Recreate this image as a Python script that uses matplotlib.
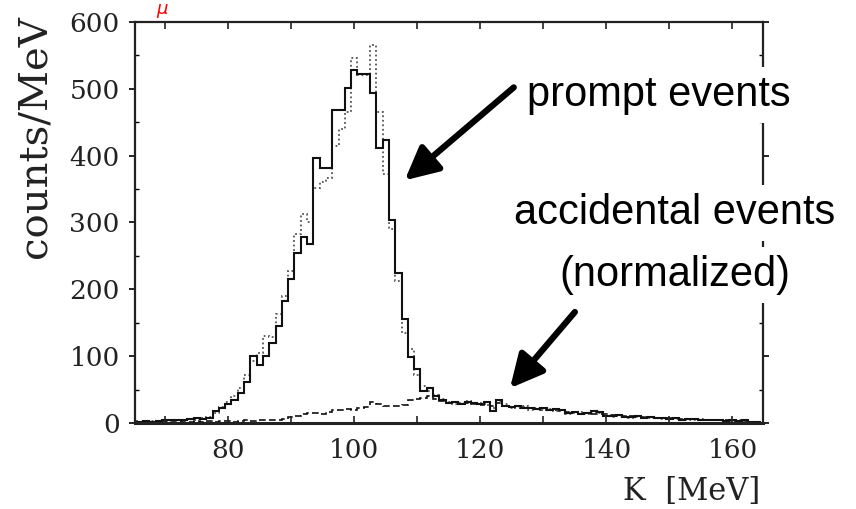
import matplotlib
matplotlib.use('Agg')
import matplotlib.pyplot as plt
import numpy as np

# Bin centres in MeV (1 MeV bins)
kCentres = list(range(65, 165))

# Prompt events, solid histogram
promptSolid = [2, 2, 3, 2, 3, 4, 4, 5, 5, 6,
               7, 6, 8, 18, 22, 28, 34, 45, 62, 100,
               86, 100, 120, 145, 183, 216, 255, 278, 268, 396,
               382, 382, 468, 468, 501, 528, 522, 522, 493, 411,
               423, 303, 225, 156, 98, 81, 48, 52, 40, 34,
               30, 31, 29, 32, 30, 28, 31, 18, 35, 26,
               24, 25, 23, 22, 21, 22, 20, 21, 19, 15,
               16, 14, 15, 18, 17, 11, 10, 12, 9, 9,
               10, 8, 9, 8, 7, 6, 7, 5, 6, 6,
               5, 4, 5, 4, 3, 4, 3, 4, 2, 2]

# Prompt events, second (dotted) histogram
promptDotted = [3, 2, 2, 3, 2, 4, 3, 4, 5, 6,
                5, 7, 9, 15, 24, 32, 40, 52, 72, 92,
                105, 130, 128, 163, 190, 228, 283, 313, 300, 352,
                360, 367, 415, 440, 465, 546, 520, 520, 566, 465,
                373, 290, 212, 135, 110, 72, 55, 48, 42, 36,
                32, 28, 30, 33, 29, 30, 27, 22, 33, 28,
                22, 24, 25, 20, 22, 19, 21, 18, 20, 14,
                15, 16, 13, 17, 15, 12, 9, 11, 10, 8,
                9, 9, 7, 8, 6, 7, 6, 6, 5, 5,
                6, 4, 4, 5, 3, 3, 4, 3, 2, 2]

# Accidental events (normalized), dashed histogram
accidental = [2, 1, 2, 2, 1, 2, 2, 3, 2, 2,
              3, 2, 3, 2, 3, 3, 2, 3, 4, 3,
              4, 4, 5, 5, 6, 9, 10, 13, 15, 15,
              14, 17, 19, 20, 21, 20, 22, 24, 31, 28,
              26, 26, 25, 27, 35, 36, 38, 40, 36, 33,
              30, 32, 29, 30, 28, 27, 29, 25, 30, 26,
              24, 23, 24, 22, 21, 20, 19, 20, 18, 17,
              16, 15, 15, 14, 14, 13, 12, 12, 11, 10,
              10, 9, 9, 8, 8, 7, 7, 6, 6, 6,
              5, 5, 4, 4, 4, 3, 3, 3, 2, 2]

xMajorTicks = [80, 100, 120, 140, 160]
yMajorTicks = [0, 100, 200, 300, 400, 500, 600]

serif = ['DejaVu Serif']
sans = ['Liberation Sans', 'DejaVu Sans']


def main():
    fig = plt.figure(figsize=(8.56, 5.09), dpi=100)
    ax = fig.add_axes([0.1577, 0.169, 0.7333, 0.788])

    centres = np.array(kCentres, dtype=float)
    edges = np.append(centres - 0.5, centres[-1] + 0.5)

    ax.stairs(accidental, edges, color='#111111', lw=1.2, linestyle=(0, (4, 2)), baseline=None)
    ax.stairs(promptDotted, edges, color='#555555', lw=1.3, linestyle=(0, (1, 1.5)), baseline=None)
    ax.stairs(promptSolid, edges, color='#111111', lw=1.5, baseline=None)

    ax.set_xlim(65.2, 164.8)
    ax.set_ylim(0, 600)

    ax.set_xticks(xMajorTicks)
    ax.set_xticks(np.arange(70, 165, 10), minor=True)
    ax.set_yticks(yMajorTicks)
    ax.set_yticks(np.arange(50, 600, 50), minor=True)
    ax.set_xticklabels([str(v) for v in xMajorTicks], family=serif, fontsize=19)
    ax.set_yticklabels([str(v) for v in yMajorTicks], family=serif, fontsize=19)
    ax.tick_params(axis='x', which='both', direction='in', length=5, width=1.2,
                   top=True, pad=11, colors='#222222', labelcolor='#222222')
    ax.tick_params(axis='y', which='major', direction='out', length=4, width=1.2,
                   right=True, pad=7, labelcolor='#222222')
    ax.tick_params(axis='y', which='minor', direction='in', length=3, width=1.0, right=True)

    for side, lw in (('bottom', 2.2), ('left', 1.6), ('top', 1.6), ('right', 1.6)):
        ax.spines[side].set_linewidth(lw)
        ax.spines[side].set_color('#222222')

    # Axis labels placed as in the scanned figure
    fig.text(35 / 856, 1 - 137 / 509, 'counts/MeV', rotation=90, ha='center', va='center',
             family=serif, fontsize=29, color='#222222')
    fig.text(760 / 856, 1 - 491 / 509, 'K  [MeV]', ha='right', va='center',
             family=serif, fontsize=22, color='#222222')
    fig.text(162 / 856, 1.0, '\u03bc', ha='center', va='top', color='red',
             style='italic', fontsize=13)

    # Annotations with arrows
    box = dict(facecolor='white', edgecolor='none', pad=6)
    fig.text(659 / 856, 1 - 95 / 509, 'prompt events', ha='center', va='center',
             family=sans, fontsize=30, bbox=box, zorder=5)
    fig.text(675 / 856, 1 - 213 / 509, 'accidental events', ha='center', va='center',
             family=sans, fontsize=30, bbox=box, zorder=5)
    fig.text(675 / 856, 1 - 275 / 509, '(normalized)', ha='center', va='center',
             family=sans, fontsize=30, bbox=box, zorder=5)

    arrow = dict(arrowstyle='-|>,head_length=1.0,head_width=0.5', lw=4.5,
                 color='black', shrinkA=0, shrinkB=0, mutation_scale=20)
    ax.annotate('', xy=(108.0, 363), xytext=(125.3, 502), arrowprops=arrow,
                annotation_clip=False)
    ax.annotate('', xy=(124.7, 52), xytext=(135.0, 166), arrowprops=arrow,
                annotation_clip=False)

    fig.savefig('out.png', dpi=100)


if __name__ == '__main__':
    main()
